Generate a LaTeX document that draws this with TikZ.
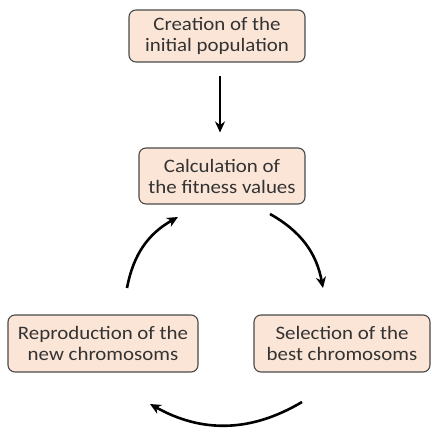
\documentclass[tikz,border=0pt]{standalone}
\usepackage{fontspec}
\setmainfont[FakeStretch=1.1]{Carlito}
\usepackage{tikz}
\usetikzlibrary{
	positioning,
	arrows.meta
}
\definecolor{boxfill}{HTML}{FBE5D6}
\definecolor{boxline}{HTML}{4A4A4A}

\begin{document}
\begin{tikzpicture}[
	x=1pt,y=1pt,
	stage/.style={draw=boxline,fill=boxfill,rounded corners=7pt,line width=1.1pt,
		align=center,font=\fontsize{19}{21}\selectfont,text=black!80,
		inner sep=0pt},
	flow/.style={-{Stealth[length=11pt,width=10pt]},line width=2.6pt}
]
	\useasboundingbox (0,0) rectangle (431,-435);
	\draw
		node [stage,minimum width=176pt,minimum height=52pt] (init) at (217,-36)    {Creation of the\\initial population}
		node [stage,minimum width=166pt,minimum height=56pt] (fit)  at (222,-176)   {Calculation of\\the fitness values}
		node [stage,minimum width=190pt,minimum height=57pt] (repr) at (103,-343.5) {Reproduction of the\\new chromosoms}
		node [stage,minimum width=176pt,minimum height=57pt] (sel)  at (342,-343.5) {Selection of the\\best chromosoms}
	;
	\coordinate (fitR)  at (270,-214);
	\coordinate (selT)  at (323,-288);
	\coordinate (selB)  at (302,-402);
	\coordinate (reprB) at (150,-404);
	\coordinate (reprT) at (127,-288);
	\coordinate (fitL)  at (178,-217);
	\draw [flow,shorten <=13pt,shorten >=15pt] (init.south -| 220,0) -- (fit.north -| 220,0);
	\draw [flow] (fitR)  to[bend left=25] (selT);
	\draw [flow] (selB)  to[bend left=30] (reprB);
	\draw [flow] (reprT) to[bend left=25] (fitL);
\end{tikzpicture}
\end{document}
